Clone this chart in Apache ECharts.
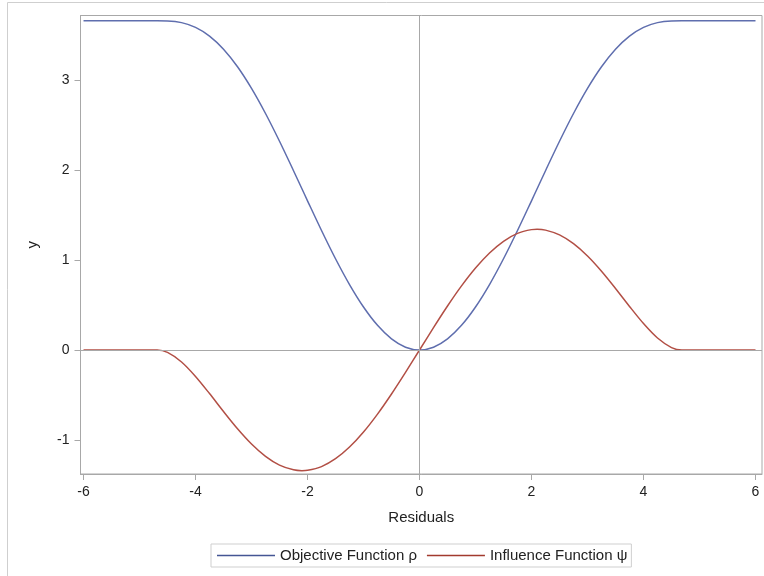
<!DOCTYPE html>
<html>
<head>
<meta charset="utf-8">
<script src="https://cdn.jsdelivr.net/npm/echarts@6/dist/echarts.min.js"></script>
<style>html,body{margin:0;padding:0;background:#fff}#c{width:764px;height:576px}</style>
</head>
<body>
<div id="c"></div>
<script>
// Residuals (x) and the two read-off curves
const residuals = [-6, -5, -4.685, -4.5, -4.25, -4, -3.75, -3.5, -3.25, -3, -2.75, -2.5, -2.25, -2.1, -2, -1.75, -1.5, -1.25, -1, -0.75, -0.5, -0.25, 0,
  0.25, 0.5, 0.75, 1, 1.25, 1.5, 1.75, 2, 2.1, 2.25, 2.5, 2.75, 3, 3.25, 3.5, 3.75, 4, 4.25, 4.5, 4.685, 5, 6];
const rhoValues = [3.658, 3.658, 3.658, 3.6565, 3.6379, 3.5854, 3.4885, 3.3426, 3.1475, 2.9070, 2.6281, 2.3196, 1.9923, 1.7917, 1.6577, 1.3276, 1.0136, 0.7270, 0.4776, 0.2741, 0.1236, 0.0312, 0,
  0.0312, 0.1236, 0.2741, 0.4776, 0.7270, 1.0136, 1.3276, 1.6577, 1.7917, 1.9923, 2.3196, 2.6281, 2.9070, 3.1475, 3.3426, 3.4885, 3.5854, 3.6379, 3.6565, 3.658, 3.658, 3.658];
const psiValues = [0, 0, 0, -0.0270, -0.1333, -0.2938, -0.4841, -0.6834, -0.8747, -1.0442, -1.1814, -1.2790, -1.3318, -1.3409, -1.3375, -1.2957, -1.2082, -1.0784, -0.9110, -0.7121, -0.4887, -0.2486, 0,
  0.2486, 0.4887, 0.7121, 0.9110, 1.0784, 1.2082, 1.2957, 1.3375, 1.3409, 1.3318, 1.2790, 1.1814, 1.0442, 0.8747, 0.6834, 0.4841, 0.2938, 0.1333, 0.0270, 0, 0, 0];
const xTicks = [-6, -4, -2, 0, 2, 4, 6];
const yTicks = [-1, 0, 1, 2, 3];
const seriesNames = ['Objective Function ρ', 'Influence Function ψ'];

const chart = echarts.init(document.getElementById('c'), null, {renderer: 'canvas'});
const font = 'Liberation Sans, Arial, sans-serif';
const axisGray = '#a8a8a8';
const rhoColor = '#5f6eae';
const psiColor = '#b24f45';
const rhoData = residuals.map((x, i) => [x, rhoValues[i]]);
const psiData = residuals.map((x, i) => [x, psiValues[i]]);

chart.setOption({
  animation: false,
  textStyle: {fontFamily: font},
  graphic: [{
    type: 'rect', shape: {x: 7.5, y: 2.5, width: 800, height: 620},
    style: {fill: 'none', stroke: '#cfcfcf', lineWidth: 1}, z: -1
  }],
  grid: {left: 80.5, right: 2, top: 15.5, bottom: 102, show: true, borderColor: axisGray, borderWidth: 1, containLabel: false},
  xAxis: {
    type: 'value', min: -6.054, max: 6.116,
    name: 'Residuals', nameLocation: 'middle', nameGap: 36,
    nameTextStyle: {fontSize: 15, color: '#222', fontFamily: font},
    axisLine: {show: true, onZero: false, lineStyle: {color: axisGray}},
    axisTick: {show: true, length: 6, lineStyle: {color: axisGray}, customValues: xTicks},
    axisLabel: {fontSize: 14, color: '#222', margin: 11, customValues: xTicks, fontFamily: font},
    splitLine: {show: false}
  },
  yAxis: {
    type: 'value', min: -1.378, max: 3.717,
    name: 'y', nameLocation: 'middle', nameGap: 40, nameRotate: 90,
    nameTextStyle: {fontSize: 15, color: '#222', fontFamily: font},
    axisLine: {show: true, onZero: false, lineStyle: {color: axisGray}},
    axisTick: {show: true, length: 6, lineStyle: {color: axisGray}, customValues: yTicks},
    axisLabel: {fontSize: 14, color: '#222', margin: 11, customValues: yTicks, fontFamily: font},
    splitLine: {show: false}
  },
  legend: {
    left: 211, top: 544, orient: 'horizontal',
    data: [
      {name: seriesNames[0], itemStyle: {color: '#445694'}},
      {name: seriesNames[1], itemStyle: {color: '#a23a2e'}}
    ],
    icon: 'rect', itemWidth: 58, itemHeight: 1.5, itemGap: 10,
    borderColor: '#cfcfcf', borderWidth: 1, padding: [4, 4, 4, 6], borderRadius: 0,
    textStyle: {fontSize: 15, color: '#222', fontFamily: font}
  },
  series: [
    {
      name: seriesNames[0], type: 'line', data: rhoData, smooth: 0.3, showSymbol: false, symbol: 'none',
      lineStyle: {color: rhoColor, width: 1.5}, itemStyle: {color: '#445694'}, z: 3,
      markLine: {
        silent: true, symbol: 'none', label: {show: false},
        lineStyle: {color: axisGray, type: 'solid', width: 1},
        data: [{xAxis: 0}, {yAxis: 0}], animation: false
      }
    },
    {
      name: seriesNames[1], type: 'line', data: psiData, smooth: 0.3, showSymbol: false, symbol: 'none',
      lineStyle: {color: psiColor, width: 1.5}, itemStyle: {color: '#a23a2e'}, z: 3
    }
  ]
});
</script>
</body>
</html>
